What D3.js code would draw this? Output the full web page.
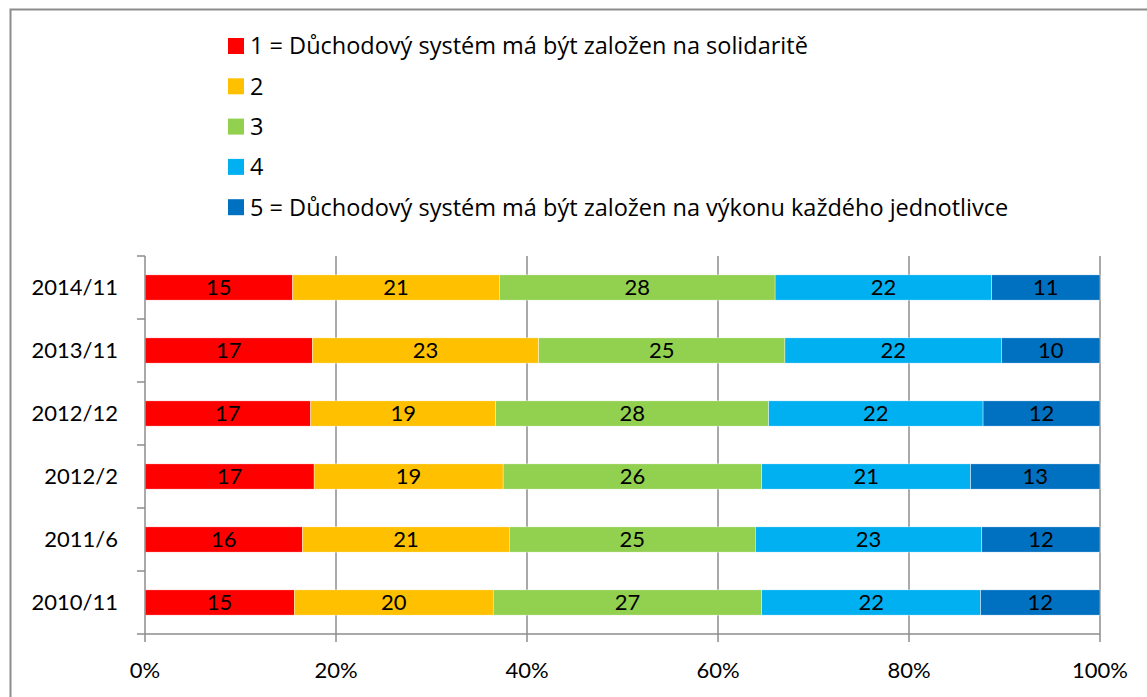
<!DOCTYPE html>
<html>
<head>
<meta charset="utf-8">
<script src="https://cdn.jsdelivr.net/npm/d3@7"></script>
<style>
  body { margin: 0; background: #fff; overflow: hidden; }
  svg { display: block; font-family: Lato, "Open Sans", sans-serif; }
</style>
</head>
<body>
<svg id="chart" width="1147" height="697"></svg>
<script>
// Survey waves (top to bottom) and answers on the 1-5 scale
const waves = ['2014/11', '2013/11', '2012/12', '2012/2', '2011/6', '2010/11'];
const seriesNames = [
    '1 = Důchodový systém má být založen na solidaritě',
    '2',
    '3',
    '4',
    '5 = Důchodový systém má být založen na výkonu každého jednotlivce'
];
const seriesColors = ['#ff0000', '#ffc000', '#92d050', '#00b0f0', '#0070c0'];
const s1 = [15, 17, 17, 17, 16, 15];
const s2 = [21, 23, 19, 19, 21, 20];
const s3 = [28, 25, 28, 26, 25, 27];
const s4 = [22, 22, 22, 21, 23, 22];
const s5 = [11, 10, 12, 13, 12, 12];
const xTicks = [0, 0.2, 0.4, 0.6, 0.8, 1];

const svg = d3.select('#chart');
const series = [s1, s2, s3, s4, s5];

// Outer frame (right and bottom edges are off-canvas)
svg.append('path')
    .attr('d', 'M10.5,697 V9.5 H1147')
    .attr('fill', 'none')
    .attr('stroke', '#8c8c8c')
    .attr('stroke-width', 2);

const x = d3.scaleLinear().domain([0, 1]).range([145, 1100]);
const y = d3.scaleBand().domain(waves).range([256, 634]).paddingInner(0.6).paddingOuter(0.3);

// Build normalised stacks (each row scaled to 100 %)
const rows = waves.map((w, i) => {
    const vals = series.map(s => s[i]);
    const total = d3.sum(vals);
    let acc = 0;
    return vals.map((v, k) => {
        const seg = { wave: w, value: v, k: k, x0: acc / total, x1: (acc + v) / total };
        acc += v;
        return seg;
    });
});

// Vertical gridlines
svg.append('g')
    .selectAll('line')
    .data(xTicks.slice(1))
    .join('line')
    .attr('x1', d => x(d)).attr('x2', d => x(d))
    .attr('y1', 256).attr('y2', 634)
    .attr('stroke', '#8c8c8c')
    .attr('stroke-width', 1.5);

// Bars
const bars = svg.append('g');
rows.forEach(row => {
    bars.selectAll(null)
        .data(row)
        .join('rect')
        .attr('x', d => x(d.x0))
        .attr('y', d => y(d.wave))
        .attr('width', d => x(d.x1) - x(d.x0))
        .attr('height', y.bandwidth())
        .attr('fill', d => seriesColors[d.k])
        .attr('stroke', '#fff')
        .attr('stroke-width', 0.4);

    bars.selectAll(null)
        .data(row)
        .join('text')
        .attr('x', d => (x(d.x0) + x(d.x1)) / 2)
        .attr('y', d => y(d.wave) + y.bandwidth() / 2)
        .attr('dy', '0.36em')
        .attr('text-anchor', 'middle')
        .attr('font-size', 22)
        .attr('fill', '#000')
        .text(d => d.value);
});

// Y axis line with ticks at category boundaries
const axisColor = '#8c8c8c';
svg.append('line')
    .attr('x1', 145).attr('x2', 145)
    .attr('y1', 256).attr('y2', 634)
    .attr('stroke', axisColor).attr('stroke-width', 1.5);
const bounds = d3.range(waves.length + 1).map(i => 256 + i * y.step());
svg.append('g')
    .selectAll('line')
    .data(bounds)
    .join('line')
    .attr('x1', 137).attr('x2', 145)
    .attr('y1', d => d).attr('y2', d => d)
    .attr('stroke', axisColor).attr('stroke-width', 1.5);

svg.append('g')
    .selectAll('text')
    .data(waves)
    .join('text')
    .attr('x', 118)
    .attr('y', d => y(d) + y.bandwidth() / 2)
    .attr('dy', '0.36em')
    .attr('text-anchor', 'end')
    .attr('font-size', 22)
    .text(d => d);

// X axis
svg.append('line')
    .attr('x1', 145).attr('x2', 1100)
    .attr('y1', 634).attr('y2', 634)
    .attr('stroke', axisColor).attr('stroke-width', 1.5);
svg.append('g')
    .selectAll('line')
    .data(xTicks)
    .join('line')
    .attr('x1', d => x(d)).attr('x2', d => x(d))
    .attr('y1', 634).attr('y2', 642)
    .attr('stroke', axisColor).attr('stroke-width', 1.5);
svg.append('g')
    .selectAll('text')
    .data(xTicks)
    .join('text')
    .attr('x', d => x(d))
    .attr('y', 670)
    .attr('dy', '0.36em')
    .attr('text-anchor', 'middle')
    .attr('font-size', 22)
    .text(d => d3.format('.0%')(d));

// Legend
const legend = svg.append('g')
    .selectAll('g')
    .data(seriesNames)
    .join('g')
    .attr('transform', (d, i) => `translate(228, ${46 + i * 40.3})`);
legend.append('rect')
    .attr('x', 0).attr('y', -8)
    .attr('width', 16).attr('height', 16)
    .attr('fill', (d, i) => seriesColors[i]);
legend.append('text')
    .attr('x', 22)
    .attr('dy', '0.36em')
    .attr('font-family', '"Open Sans", sans-serif')
    .attr('font-size', 23.5)
    .text(d => d);
</script>
</body>
</html>
